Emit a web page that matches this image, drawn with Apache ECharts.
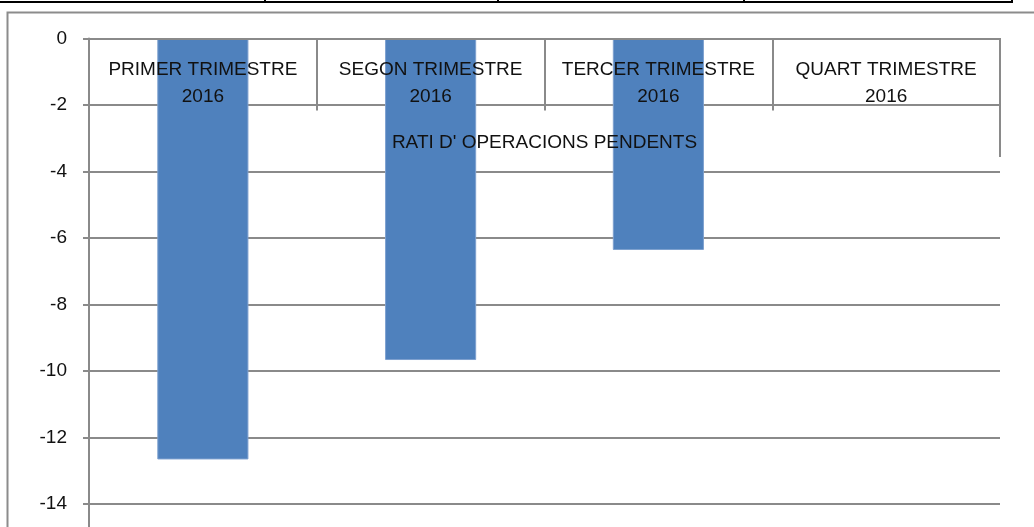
<!DOCTYPE html>
<html>
<head>
<meta charset="utf-8">
<script src="https://cdn.jsdelivr.net/npm/echarts@6/dist/echarts.min.js"></script>
<style>
  html, body { margin: 0; padding: 0; background: #fff; }
  #chart { width: 1034px; height: 527px; }
</style>
</head>
<body>
<div id="chart"></div>
<script>
// ---- data ----
var categories = [
  'PRIMER TRIMESTRE\n2016',
  'SEGON TRIMESTRE\n2016',
  'TERCER TRIMESTRE\n2016',
  'QUART TRIMESTRE\n2016'
];
var ratiValues = [-12.66, -9.67, -6.36, null];
var seriesName = "RATI D' OPERACIONS PENDENTS";
var yTickLabels = [0, -2, -4, -6, -8, -10, -12, -14];
// the original chart is cropped at the bottom; its value axis runs on below -14
var yAxisMin = -16;

var font = '"Liberation Sans", Arial, sans-serif';
var gridColor = '#8a8a8a';

var chart = echarts.init(document.getElementById('chart'), null, { renderer: 'canvas' });
chart.setOption({
  animation: false,
  backgroundColor: '#ffffff',
  grid: { left: 89, width: 911, top: 38.5, height: 532, containLabel: false, outerBoundsMode: 'none' },
  xAxis: {
    type: 'category',
    data: categories,
    position: 'top',
    z: 5,
    name: seriesName,
    nameLocation: 'middle',
    nameGap: -104,
    nameTextStyle: { fontFamily: font, fontSize: 19, color: '#111', verticalAlign: 'middle' },
    axisLine: { show: true, lineStyle: { color: gridColor, width: 2 } },
    axisTick: { show: true, inside: true, length: 72, interval: 0, alignWithLabel: false,
                lineStyle: { color: gridColor, width: 2 } },
    axisLabel: { show: true, inside: true, interval: 0, margin: 18, lineHeight: 27,
                 fontFamily: font, fontSize: 19, color: '#111', align: 'center' },
    splitLine: { show: false }
  },
  yAxis: {
    type: 'value',
    min: yAxisMin,
    max: yTickLabels[0],
    interval: yTickLabels[0] - yTickLabels[1],
    axisLine: { show: true, onZero: false, lineStyle: { color: gridColor, width: 2 } },
    axisTick: { show: true, length: 6, lineStyle: { color: gridColor, width: 2 } },
    axisLabel: { margin: 22, fontFamily: font, fontSize: 19, color: '#111' },
    splitLine: { show: true, lineStyle: { color: gridColor, width: 2 } }
  },
  series: [{
    type: 'bar',
    name: seriesName,
    data: ratiValues,
    barWidth: '40%',
    itemStyle: { color: '#4f81bd', borderColor: '#7da0cf', borderWidth: 1 }
  }],
  graphic: [
    // outer chart-area frame (cropped on the right and bottom)
    { type: 'polyline', silent: true, z: 10,
      shape: { points: [[7.5, 530], [7.5, 12.5], [1040, 12.5]] },
      style: { stroke: '#8c8c8c', lineWidth: 2, fill: null } },
    // table border above the chart
    { type: 'line', silent: true, z: 10, shape: { x1: 0, y1: 2, x2: 1013, y2: 2 },
      style: { stroke: '#000', lineWidth: 2 } },
    { type: 'line', silent: true, z: 10, shape: { x1: 265, y1: 0, x2: 265, y2: 3 }, style: { stroke: '#000', lineWidth: 2 } },
    { type: 'line', silent: true, z: 10, shape: { x1: 498, y1: 0, x2: 498, y2: 3 }, style: { stroke: '#000', lineWidth: 2 } },
    { type: 'line', silent: true, z: 10, shape: { x1: 744, y1: 0, x2: 744, y2: 3 }, style: { stroke: '#000', lineWidth: 2 } },
    { type: 'line', silent: true, z: 10, shape: { x1: 1012, y1: 0, x2: 1012, y2: 3 }, style: { stroke: '#000', lineWidth: 2 } },
    // right edge of the label table runs a little lower
    { type: 'line', silent: true, z: 10, shape: { x1: 1000, y1: 38, x2: 1000, y2: 157 },
      style: { stroke: gridColor, lineWidth: 2 } }
  ]
});
</script>
</body>
</html>
